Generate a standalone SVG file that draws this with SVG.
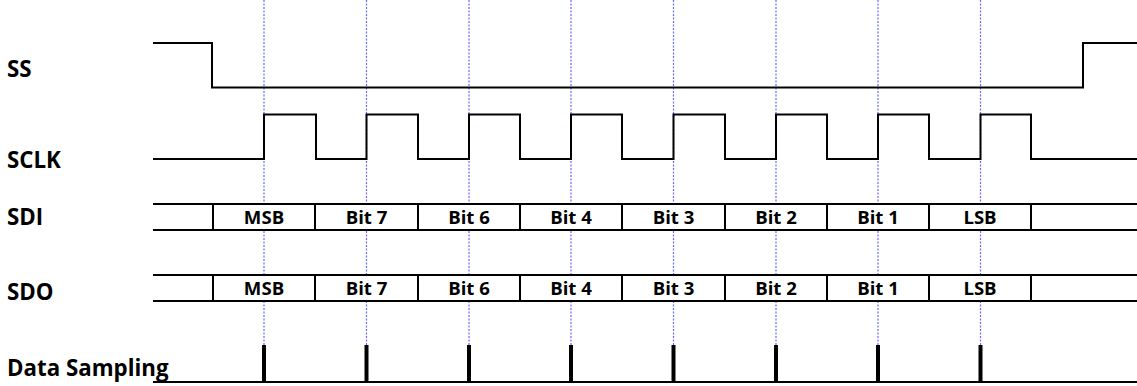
<svg xmlns="http://www.w3.org/2000/svg" width="1137" height="386" viewBox="0 0 1137 386">
<style>
.sig{fill:none;stroke:#000;stroke-width:2;stroke-linejoin:miter}
.bus{fill:#fff;stroke:none}
.guide{stroke:#2a2aff;stroke-width:1.2;stroke-dasharray:2 1.5;opacity:0.7}
.lbl{font-family:"Open Sans","Liberation Sans",sans-serif;font-weight:bold;font-size:22.3px;fill:#000}
.bit{font-family:"Open Sans","Liberation Sans",sans-serif;font-weight:bold;font-size:18.6px;fill:#000;text-anchor:middle}
.pulse{stroke:#000;stroke-width:4}
</style>
<rect width="1137" height="386" fill="#fff"/>
<g id="guides">
<line class="guide" x1="264" y1="0" x2="264" y2="345"/>
<line class="guide" x1="366.5" y1="0" x2="366.5" y2="345"/>
<line class="guide" x1="469" y1="0" x2="469" y2="345"/>
<line class="guide" x1="571" y1="0" x2="571" y2="345"/>
<line class="guide" x1="673.5" y1="0" x2="673.5" y2="345"/>
<line class="guide" x1="776" y1="0" x2="776" y2="345"/>
<line class="guide" x1="878" y1="0" x2="878" y2="345"/>
<line class="guide" x1="980.5" y1="0" x2="980.5" y2="345"/>
</g>
<g id="labels">
<text class="lbl" x="7" y="77">SS</text>
<text class="lbl" x="7" y="168">SCLK</text>
<text class="lbl" x="7" y="225">SDI</text>
<text class="lbl" x="7" y="300">SDO</text>
<text class="lbl" x="7" y="376">Data Sampling</text>
</g>
<g id="ss">
<polyline class="sig" points="153,43 212,43 212,87.5 1083,87.5 1083,43 1137,43"/>
</g>
<g id="sclk">
<polyline class="sig" points="153,159 264,159 264,114.5 316,114.5 316,159 366.5,159 366.5,114.5 418,114.5 418,159 469,159 469,114.5 520,114.5 520,159 571,159 571,114.5 622,114.5 622,159 673.5,159 673.5,114.5 725,114.5 725,159 776,159 776,114.5 827,114.5 827,159 878,159 878,114.5 929,114.5 929,159 980.5,159 980.5,114.5 1031,114.5 1031,159 1137,159"/>
</g>
<g id="sdi">
<rect class="bus" x="153" y="204" width="984" height="26"/>
<line class="sig" x1="153" y1="204" x2="1137" y2="204"/>
<line class="sig" x1="153" y1="230" x2="1137" y2="230"/>
<path class="sig" d="M213,204V230M315,204V230M418,204V230M520,204V230M622,204V230M725,204V230M827,204V230M929,204V230M1031,204V230"/>
<text class="bit" x="264" y="224">MSB</text>
<text class="bit" x="366.5" y="224">Bit 7</text>
<text class="bit" x="469" y="224">Bit 6</text>
<text class="bit" x="571" y="224">Bit 4</text>
<text class="bit" x="673.5" y="224">Bit 3</text>
<text class="bit" x="776" y="224">Bit 2</text>
<text class="bit" x="878" y="224">Bit 1</text>
<text class="bit" x="980" y="224">LSB</text>
</g>
<g id="sdo">
<rect class="bus" x="153" y="275" width="984" height="26"/>
<line class="sig" x1="153" y1="275" x2="1137" y2="275"/>
<line class="sig" x1="153" y1="301" x2="1137" y2="301"/>
<path class="sig" d="M213,275V301M315,275V301M418,275V301M520,275V301M622,275V301M725,275V301M827,275V301M929,275V301M1031,275V301"/>
<text class="bit" x="264" y="295">MSB</text>
<text class="bit" x="366.5" y="295">Bit 7</text>
<text class="bit" x="469" y="295">Bit 6</text>
<text class="bit" x="571" y="295">Bit 4</text>
<text class="bit" x="673.5" y="295">Bit 3</text>
<text class="bit" x="776" y="295">Bit 2</text>
<text class="bit" x="878" y="295">Bit 1</text>
<text class="bit" x="980" y="295">LSB</text>
</g>
<g id="sampling">
<line class="sig" x1="153" y1="382" x2="1137" y2="382"/>
<path class="pulse" d="M264,345V383M366.5,345V383M469,345V383M571,345V383M673.5,345V383M776,345V383M878,345V383M980.5,345V383"/>
</g>
</svg>
